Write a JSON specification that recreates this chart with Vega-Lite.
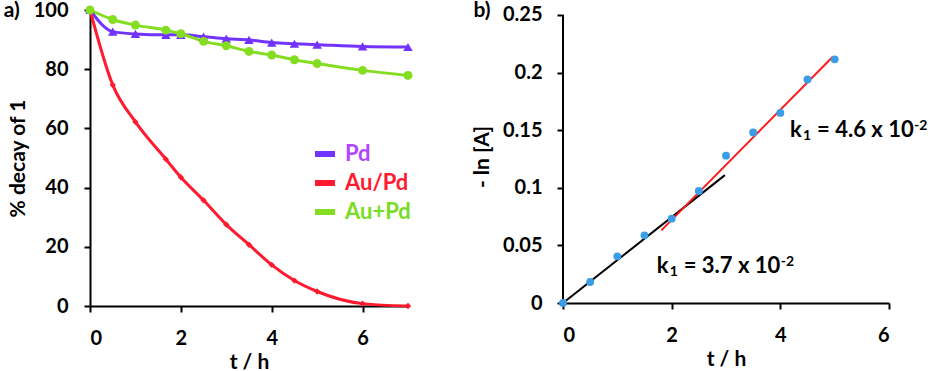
{
  "$schema": "https://vega.github.io/schema/vega-lite/v6.json",
  "background": "white",
  "padding": {"left": 3, "top": 0, "right": 0, "bottom": 0},
  "spacing": 57,
  "resolve": {
    "scale": {"x": "independent", "y": "independent", "color": "independent"},
    "legend": {"color": "independent"}
  },
  "config": {
    "font": "Lato",
    "view": {"stroke": null},
    "axis": {
      "grid": false,
      "domainColor": "black",
      "domainWidth": 2,
      "tickColor": "black",
      "tickWidth": 2,
      "tickSize": 6,
      "labelFont": "Lato",
      "labelFontWeight": "bold",
      "labelFontSize": 20,
      "labelColor": "black",
      "titleFont": "Lato",
      "titleFontWeight": "bold",
      "titleFontSize": 21,
      "titleColor": "black"
    }
  },
  "datasets": {
    "decay": [
      {"t": 0, "series": "Pd", "value": 100},
      {"t": 0.5, "series": "Pd", "value": 92.7},
      {"t": 1, "series": "Pd", "value": 91.9},
      {"t": 1.67, "series": "Pd", "value": 91.6},
      {"t": 2, "series": "Pd", "value": 91.6},
      {"t": 2.5, "series": "Pd", "value": 91.0},
      {"t": 3, "series": "Pd", "value": 90.3},
      {"t": 3.5, "series": "Pd", "value": 89.9},
      {"t": 4, "series": "Pd", "value": 89.0},
      {"t": 4.5, "series": "Pd", "value": 88.6},
      {"t": 5, "series": "Pd", "value": 88.3},
      {"t": 6, "series": "Pd", "value": 87.7},
      {"t": 7, "series": "Pd", "value": 87.5},
      {"t": 0, "series": "Au/Pd", "value": 100},
      {"t": 0.5, "series": "Au/Pd", "value": 74.7},
      {"t": 1, "series": "Au/Pd", "value": 62.2},
      {"t": 1.67, "series": "Au/Pd", "value": 49.6},
      {"t": 2, "series": "Au/Pd", "value": 43.5},
      {"t": 2.5, "series": "Au/Pd", "value": 35.7},
      {"t": 3, "series": "Au/Pd", "value": 27.5},
      {"t": 3.5, "series": "Au/Pd", "value": 20.7},
      {"t": 4, "series": "Au/Pd", "value": 13.9},
      {"t": 4.5, "series": "Au/Pd", "value": 8.6},
      {"t": 5, "series": "Au/Pd", "value": 4.9},
      {"t": 6, "series": "Au/Pd", "value": 0.8},
      {"t": 7, "series": "Au/Pd", "value": 0},
      {"t": 0, "series": "Au+Pd", "value": 100},
      {"t": 0.5, "series": "Au+Pd", "value": 96.8},
      {"t": 1, "series": "Au+Pd", "value": 94.9},
      {"t": 1.67, "series": "Au+Pd", "value": 93.2},
      {"t": 2, "series": "Au+Pd", "value": 92.0},
      {"t": 2.5, "series": "Au+Pd", "value": 89.4},
      {"t": 3, "series": "Au+Pd", "value": 87.9},
      {"t": 3.5, "series": "Au+Pd", "value": 86.0},
      {"t": 4, "series": "Au+Pd", "value": 84.8},
      {"t": 4.5, "series": "Au+Pd", "value": 83.2},
      {"t": 5, "series": "Au+Pd", "value": 81.9},
      {"t": 6, "series": "Au+Pd", "value": 79.6},
      {"t": 7, "series": "Au+Pd", "value": 77.9}
    ],
    "kin": [
      {"t": 0, "lnA": 0},
      {"t": 0.5, "lnA": 0.0182},
      {"t": 1, "lnA": 0.0405},
      {"t": 1.5, "lnA": 0.0587},
      {"t": 2, "lnA": 0.0732},
      {"t": 2.5, "lnA": 0.0972},
      {"t": 3, "lnA": 0.1279},
      {"t": 3.5, "lnA": 0.148},
      {"t": 4, "lnA": 0.165},
      {"t": 4.5, "lnA": 0.194},
      {"t": 5, "lnA": 0.2115}
    ],
    "fits": [
      {"fit": "early", "t": 0, "y": 0},
      {"fit": "early", "t": 2.98, "y": 0.111},
      {"fit": "late", "t": 1.81, "y": 0.063},
      {"fit": "late", "t": 4.96, "y": 0.2135}
    ],
    "rates": [
      {"k": "k", "sub": "1", "main": "= 4.6 x 10", "sup": "-2", "t": 4.18, "y": 0.1441},
      {"k": "k", "sub": "1", "main": "= 3.7 x 10", "sup": "-2", "t": 1.725, "y": 0.0258}
    ]
  },
  "hconcat": [
    {
      "width": 318,
      "height": 296,
      "layer": [
        {
          "data": {"name": "decay"},
          "mark": {"type": "line", "interpolate": "monotone", "strokeWidth": 3},
          "encoding": {
            "x": {"field": "t", "type": "quantitative", "scale": {"domain": [0, 7], "nice": false},
                  "axis": {"values": [0, 2, 4, 6], "format": "d", "title": "t / h", "labelPadding": 16, "titlePadding": 3}},
            "y": {"field": "value", "type": "quantitative", "scale": {"domain": [0, 100], "nice": false},
                  "axis": {"values": [0, 20, 40, 60, 80, 100], "format": "d", "title": "% decay of 1", "labelPadding": 16, "titlePadding": 5}},
            "color": {
              "field": "series", "type": "nominal",
              "scale": {"domain": ["Pd", "Au/Pd", "Au+Pd"], "range": ["#7233ff", "#ff1a30", "#85dd22"]},
              "legend": {
                "title": null,
                "orient": "none",
                "legendX": 222,
                "legendY": 131,
                "symbolType": "stroke",
                "symbolSize": 400,
                "symbolStrokeWidth": 6,
                "labelFont": "Lato",
                "labelFontSize": 22,
                "labelFontWeight": "bold",
                "labelColor": {"expr": "datum.value === 'Pd' ? '#b044ff' : datum.value === 'Au/Pd' ? '#ff1a30' : '#77dd22'"},
                "labelOffset": 7,
                "rowPadding": 4
              }
            }
          }
        },
        {
          "data": {"name": "decay"},
          "transform": [{"filter": "datum.series === 'Pd'"}],
          "mark": {"type": "point", "shape": "triangle-up", "filled": true, "opacity": 1, "size": 90, "color": "#7233ff"},
          "encoding": {
            "x": {"field": "t", "type": "quantitative"},
            "y": {"field": "value", "type": "quantitative"}
          }
        },
        {
          "data": {"name": "decay"},
          "transform": [{"filter": "datum.series === 'Au/Pd'"}],
          "mark": {"type": "point", "shape": "diamond", "filled": true, "opacity": 1, "size": 40, "color": "#ff1a30"},
          "encoding": {
            "x": {"field": "t", "type": "quantitative"},
            "y": {"field": "value", "type": "quantitative"}
          }
        },
        {
          "data": {"name": "decay"},
          "transform": [{"filter": "datum.series === 'Au+Pd'"}],
          "mark": {"type": "point", "shape": "circle", "filled": true, "opacity": 1, "size": 80, "color": "#85dd22"},
          "encoding": {
            "x": {"field": "t", "type": "quantitative"},
            "y": {"field": "value", "type": "quantitative"}
          }
        },
        {
          "data": {"values": [{"label": "a)", "t": -1.72, "value": 99.5}]},
          "mark": {"type": "text", "font": "Lato", "fontWeight": "bold", "fontSize": 21, "align": "center", "baseline": "middle", "color": "black"},
          "encoding": {
            "x": {"field": "t", "type": "quantitative"},
            "y": {"field": "value", "type": "quantitative"},
            "text": {"field": "label"}
          }
        }
      ]
    },
    {
      "width": 326,
      "height": 293,
      "layer": [
        {
          "data": {"name": "fits"},
          "mark": {"type": "line", "strokeWidth": 2},
          "encoding": {
            "x": {"field": "t", "type": "quantitative", "scale": {"domain": [0, 6], "nice": false},
                  "axis": {"values": [0, 2, 4, 6], "format": "d", "title": "t / h", "labelPadding": 16, "titlePadding": 3}},
            "y": {"field": "y", "type": "quantitative", "scale": {"domain": [0, 0.2543], "nice": false},
                  "axis": {"values": [0, 0.05, 0.1, 0.15, 0.2, 0.25], "format": "~g", "domain": false, "title": "- ln [A]", "labelPadding": 15, "titlePadding": 10}},
            "color": {"field": "fit", "type": "nominal", "scale": {"domain": ["early", "late"], "range": ["black", "#ff1a1a"]}, "legend": null}
          }
        },
        {
          "data": {"values": [{}]},
          "mark": {"type": "rule", "strokeWidth": 2, "color": "black"},
          "encoding": {
            "x": {"datum": 0, "type": "quantitative"},
            "y": {"datum": 0, "type": "quantitative"},
            "y2": {"datum": 0.25}
          }
        },
        {
          "data": {"name": "kin"},
          "mark": {"type": "circle", "size": 62, "color": "#3b9de6", "opacity": 1},
          "encoding": {
            "x": {"field": "t", "type": "quantitative"},
            "y": {"field": "lnA", "type": "quantitative"}
          }
        },
        {
          "data": {"name": "rates"},
          "mark": {"type": "text", "font": "Lato", "fontWeight": "bold", "fontSize": 22, "align": "left", "baseline": "alphabetic", "color": "black"},
          "encoding": {
            "x": {"field": "t", "type": "quantitative"},
            "y": {"field": "y", "type": "quantitative"},
            "text": {"field": "k"}
          }
        },
        {
          "data": {"name": "rates"},
          "mark": {"type": "text", "font": "Lato", "fontWeight": "bold", "fontSize": 14, "align": "left", "baseline": "alphabetic", "color": "black", "dx": 13, "dy": 3},
          "encoding": {
            "x": {"field": "t", "type": "quantitative"},
            "y": {"field": "y", "type": "quantitative"},
            "text": {"field": "sub"}
          }
        },
        {
          "data": {"name": "rates"},
          "mark": {"type": "text", "font": "Lato", "fontWeight": "bold", "fontSize": 22, "align": "left", "baseline": "alphabetic", "color": "black", "dx": 27},
          "encoding": {
            "x": {"field": "t", "type": "quantitative"},
            "y": {"field": "y", "type": "quantitative"},
            "text": {"field": "main"}
          }
        },
        {
          "data": {"name": "rates"},
          "mark": {"type": "text", "font": "Lato", "fontWeight": "bold", "fontSize": 14, "align": "left", "baseline": "alphabetic", "color": "black", "dx": 124, "dy": -7},
          "encoding": {
            "x": {"field": "t", "type": "quantitative"},
            "y": {"field": "y", "type": "quantitative"},
            "text": {"field": "sup"}
          }
        },
        {
          "data": {"values": [{"label": "b)", "t": -1.49, "y": 0.253}]},
          "mark": {"type": "text", "font": "Lato", "fontWeight": "bold", "fontSize": 21, "align": "center", "baseline": "middle", "color": "black"},
          "encoding": {
            "x": {"field": "t", "type": "quantitative"},
            "y": {"field": "y", "type": "quantitative"},
            "text": {"field": "label"}
          }
        }
      ]
    }
  ]
}
